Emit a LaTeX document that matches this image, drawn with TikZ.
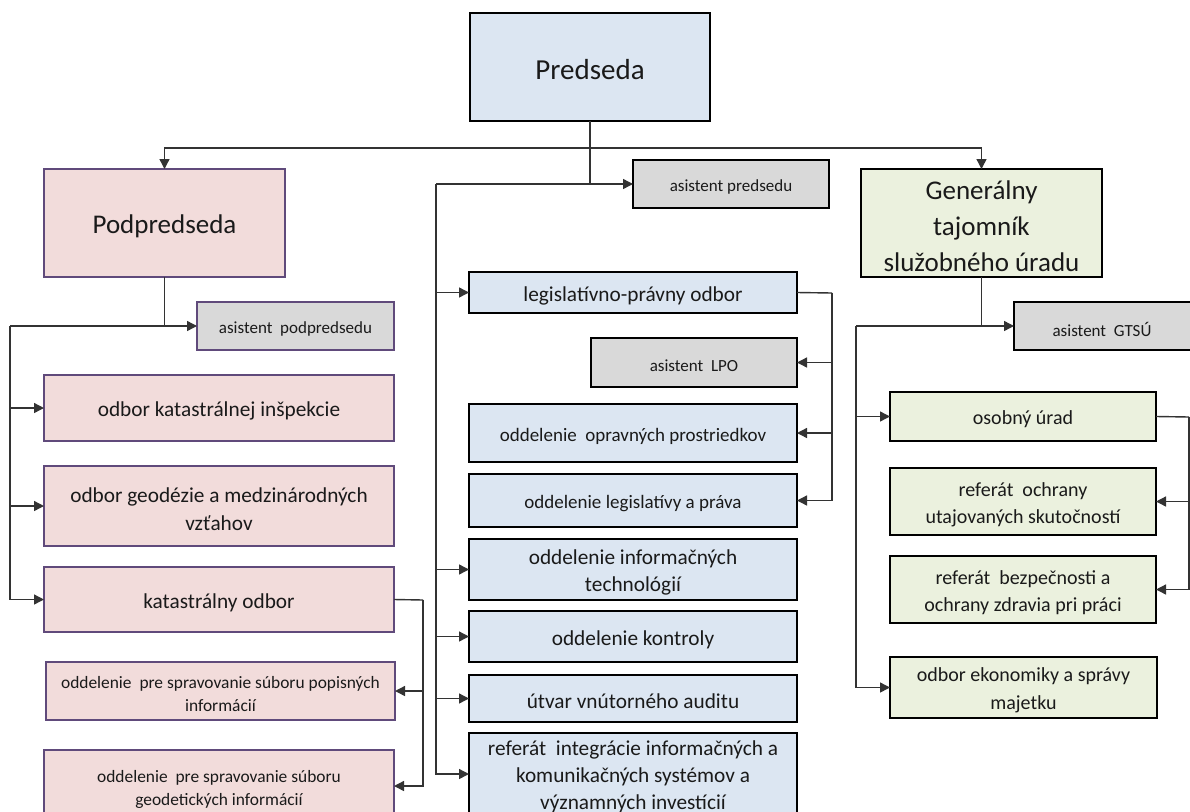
\documentclass[tikz,border=0pt]{standalone}
\usepackage{fontspec}
\setmainfont{Carlito}
\usetikzlibrary{arrows.meta}
\definecolor{cblue}{HTML}{DCE6F2}
\definecolor{cpink}{HTML}{F2DCDB}
\definecolor{cgreen}{HTML}{EBF1DE}
\definecolor{cgray}{HTML}{D9D9D9}
\definecolor{cpurple}{HTML}{604A7B}
\definecolor{ctext}{HTML}{1A1A1A}
\newcommand\fs[2]{\fontsize{#1}{#2}\selectfont}
\tikzset{
 box/.style={draw=black, line width=1.8pt, inner sep=0pt, outer sep=0pt},
 bluebox/.style={box, fill=cblue},
 pinkbox/.style={box, fill=cpink, draw=cpurple},
 greenbox/.style={box, fill=cgreen},
 graybox/.style={box, fill=cgray},
 graypbox/.style={box, fill=cgray, draw=cpurple},
 lbl/.style={align=center, text=ctext, inner sep=0pt},
 conn/.style={draw=black!80, line width=1.4pt},
 arr/.style={conn, -{Triangle[length=10pt,width=10pt]}},
}
% name, x1, y1, x2, y2, box style, font, text
\newcommand\bx[8]{%
 \node[#6, minimum width={(#4-#2)*1pt}, minimum height={(#5-#3)*1pt}] (#1) at ({(#2+#4)/2},{(#3+#5)/2}) {};
 \node[lbl, font=#7] (#1-t) at ([yshift=-3pt]#1.center) {#8};}
\begin{document}
\begin{tikzpicture}[x=1pt,y=-1pt]
\useasboundingbox (0,0) rectangle (1190,811);
% top level
\bx{pred}{470}{13}{710}{121}{bluebox}{\fs{29}{33}}{Predseda}
\bx{apred}{633}{160}{829}{208}{graybox}{\fs{17}{20}}{asistent predsedu}
\bx{podp}{44}{169}{285}{277}{pinkbox}{\fs{27}{31}}{Podpredseda}
\bx{gen}{861}{169}{1102}{277}{greenbox}{\fs{27}{36}}{Generálny\\tajomník\\služobného úradu}
% left column
\bx{apodp}{197}{302}{394}{350}{graypbox}{\fs{17}{20}}{asistent\ \ podpredsedu}
\bx{kinsp}{44}{375}{394}{441}{pinkbox}{\fs{21.3}{25}}{odbor katastrálnej inšpekcie}
\bx{geod}{44}{466}{394}{546}{pinkbox}{\fs{21.3}{28}}{odbor geodézie a medzinárodných\\vzťahov}
\bx{kat}{44}{567}{394}{632}{pinkbox}{\fs{21.3}{25}}{katastrálny odbor}
\bx{popis}{46}{662}{395}{720}{pinkbox}{\fs{17.4}{23}}{oddelenie\ \ pre spravovanie súboru popisných\\informácií}
\bx{geodinf}{44}{750}{394}{822}{pinkbox}{\fs{17.4}{23}}{oddelenie\ \ pre spravovanie súboru\\geodetických informácií}
% middle column
\bx{legis}{469}{272}{797}{313}{bluebox}{\fs{21.3}{25}}{legislatívno-právny odbor}
\bx{alpo}{591}{338}{797}{387}{graybox}{\fs{17}{20}}{asistent\ \ LPO}
\bx{oprav}{469}{404}{797}{462}{bluebox}{\fs{19}{22}}{oddelenie\ \ opravných prostriedkov}
\bx{legpr}{469}{474}{797}{527}{bluebox}{\fs{19}{22}}{oddelenie legislatívy a práva}
\bx{infot}{469}{539}{797}{600}{bluebox}{\fs{21.3}{27}}{oddelenie informačných\\technológií}
\bx{kontr}{469}{611}{797}{662}{bluebox}{\fs{21.3}{25}}{oddelenie kontroly}
\bx{audit}{469}{675}{797}{722}{bluebox}{\fs{21.3}{25}}{útvar vnútorného auditu}
\bx{integ}{469}{733}{797}{815}{bluebox}{\fs{21.3}{27}}{referát\ \ integrácie informačných a\\komunikačných systémov a\\významných investícií}
% right column
\bx{agts}{1014}{302}{1200}{350}{graybox}{\fs{17}{20}}{asistent\ \ GTSÚ\hspace*{10pt}}
\bx{osob}{890}{392}{1156}{441}{greenbox}{\fs{20}{24}}{osobný úrad}
\bx{utaj}{890}{468}{1156}{535}{greenbox}{\fs{20}{27}}{referát\ \ ochrany\\utajovaných skutočností}
\bx{bezp}{890}{556}{1156}{623}{greenbox}{\fs{20}{27}}{referát\ \ bezpečnosti a\\ochrany zdravia pri práci}
\bx{ekon}{890}{657}{1157}{718}{greenbox}{\fs{20}{28}}{odbor ekonomiky a správy\\majetku}
% junction coordinates
\coordinate (tj) at (590,148);
\coordinate (mj) at (436,184);
\coordinate (lj) at (10,326);
\coordinate (rj) at (856,326);
\coordinate (kj) at (423,600);
\coordinate (lpj) at (832,293);
\coordinate (oj) at (1189,417);
% top connectors
\draw[conn] (pred.south) -- (tj);
\draw[arr] (tj) -| (podp.north);
\draw[arr] (tj) -| (gen.north);
% middle trunk
\draw[arr] (pred.south) |- (apred.west);
\draw[conn] (pred.south |- apred.west) -- (mj);
\draw[arr] (mj) |- (legis.west);
\draw[arr] (mj) |- (infot.west);
\draw[arr] (mj) |- (kontr.west);
\draw[arr] (mj) |- (audit.west);
\draw[arr] (mj) |- (integ.west);
\draw[conn] (legis.east) -- (lpj);
\draw[arr] (lpj) |- (alpo.east);
\draw[arr] (lpj) |- (oprav.east);
\draw[arr] (lpj) |- (legpr.east);
% left trunk
\draw[arr] (podp.south) |- (apodp.west);
\draw[conn] (podp.south |- apodp.west) -- (lj);
\draw[arr] (lj) |- (kinsp.west);
\draw[arr] (lj) |- (geod.west);
\draw[arr] (lj) |- (kat.west);
\draw[conn] (kat.east) -- (kj);
\draw[arr] (kj) |- (popis.east);
\draw[arr] (kj) |- (geodinf.east);
% right trunk
\draw[arr] (gen.south) |- (agts.west);
\draw[conn] (gen.south |- agts.west) -- (rj);
\draw[arr] (rj) |- (osob.west);
\draw[arr] (rj) |- (ekon.west);
\draw[conn] (osob.east) -- (oj);
\draw[arr] (oj) |- (utaj.east);
\draw[arr] (oj) |- (bezp.east);
\end{tikzpicture}
\end{document}
